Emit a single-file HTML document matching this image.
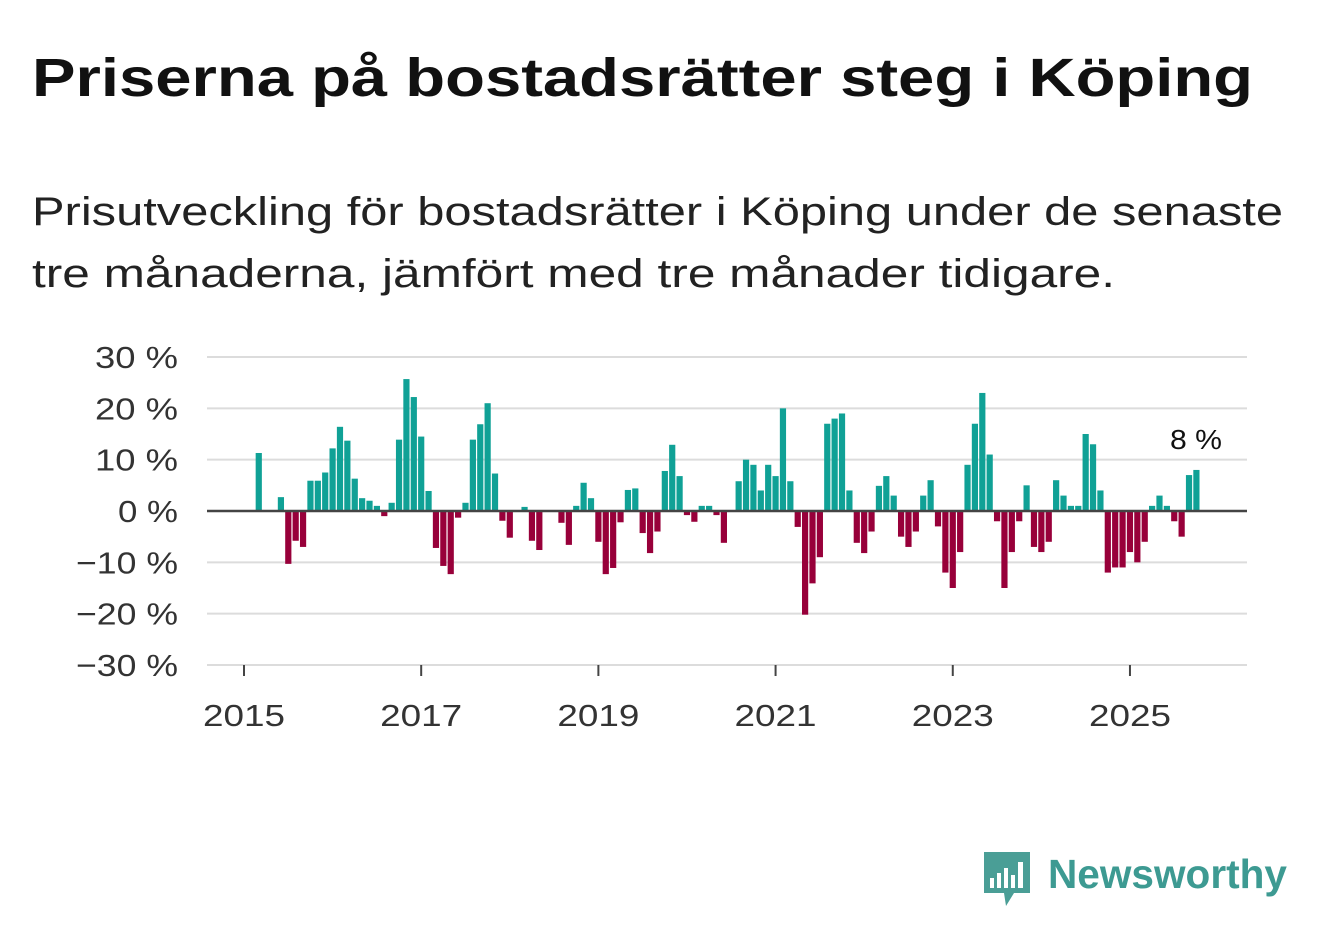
<!DOCTYPE html>
<html><head><meta charset="utf-8"><style>
html,body{margin:0;padding:0;background:#fff;}
svg{display:block;font-family:"Liberation Sans",sans-serif;}
</style></head><body>
<svg id="chart" width="1322" height="939" viewBox="0 0 1322 939">
<text x="32" y="96" font-size="54" font-weight="bold" fill="#111" textLength="1221" lengthAdjust="spacingAndGlyphs">Priserna på bostadsrätter steg i Köping</text>
<text x="32" y="225" font-size="40" fill="#222" textLength="1251" lengthAdjust="spacingAndGlyphs">Prisutveckling för bostadsrätter i Köping under de senaste</text>
<text x="32" y="287" font-size="40" fill="#222" textLength="1083" lengthAdjust="spacingAndGlyphs">tre månaderna, jämfört med tre månader tidigare.</text>
<g id="grid"></g>
<g id="bars"></g>
<g id="axes"></g>
<text x="1222" y="449" font-size="28" fill="#111" text-anchor="end" textLength="52" lengthAdjust="spacingAndGlyphs">8 %</text>
<g>
<path d="M984 852 H1030 V893 H1014 L1006 906 L1004 893 H984 Z" fill="#4a9e96"/>
<rect x="990" y="878" width="4" height="10" fill="#fff"/>
<rect x="997" y="873" width="4" height="15" fill="#fff"/>
<rect x="1004" y="868" width="4" height="20" fill="#fff"/>
<rect x="1011" y="875" width="4" height="13" fill="#fff"/>
<rect x="1018" y="862" width="5" height="26" fill="#fff"/>
<text x="1048" y="888" font-size="41" font-weight="bold" fill="#3d9a92" textLength="239" lengthAdjust="spacingAndGlyphs">Newsworthy</text>
</g>
</svg>
<script>
const startYear = 2015;
const yTicks = [30, 20, 10, 0, -10, -20, -30];
const yTickLabels = ["30 %", "20 %", "10 %", "0 %", "−10 %", "−20 %", "−30 %"];
const xTickYears = [2015, 2017, 2019, 2021, 2023, 2025];
const values = [
0,0,11.3,0,0,2.7,-10.3,-5.8,-7,5.9,5.9,7.5,
12.2,16.4,13.7,6.3,2.5,2,1,-1,1.6,13.9,25.7,22.2,
14.5,3.9,-7.2,-10.7,-12.3,-1.3,1.6,13.9,16.9,21,7.3,-1.9,
-5.2,0,0.8,-5.8,-7.6,0,0,-2.3,-6.6,1,5.5,2.5,
-6,-12.3,-11.1,-2.2,4.1,4.4,-4.3,-8.2,-4,7.8,12.9,6.8,
-0.8,-2.1,1,1,-0.8,-6.2,0,5.8,10,9,4,9,
6.8,20,5.8,-3.1,-20.2,-14.1,-9,17,18,19,4,-6.2,
-8.2,-4,4.9,6.8,3,-5,-7,-4,3,6,-3,-12,
-15,-8,9,17,23,11,-2,-15,-8,-2,5,-7,
-8,-6,6,3,1,1,15,13,4,-12,-11,-11,
-8,-10,-6,1,3,1,-2,-5,7,8
];
const NS = "http://www.w3.org/2000/svg";
const x0 = 244, pxPerMonth = 7.383, plotL = 207, plotR = 1247;
function xScale(m){ return x0 + m * pxPerMonth; }
function yScale(v){ return 511 - v * 5.133; }
function mk(tag, attrs, parent){ const e = document.createElementNS(NS, tag); for (const k in attrs) e.setAttribute(k, attrs[k]); parent.appendChild(e); return e; }
const grid = document.getElementById('grid'), bars = document.getElementById('bars'), axes = document.getElementById('axes');
yTicks.forEach((t, i) => {
  if (t !== 0) {
    const l = mk('line', {x1: plotL, x2: plotR, y1: yScale(t), y2: yScale(t), stroke: '#dcdcdc', 'stroke-width': 2}, grid);
    
    
  }
  const lbl = yTickLabels[i];
  const w = lbl.length >= 5 ? 102 : (lbl.length === 4 ? 83 : 60);
  const tx = mk('text', {x: 178, y: yScale(t) + 11, 'font-size': 31, fill: '#333', 'text-anchor': 'end', textLength: w, lengthAdjust: 'spacingAndGlyphs'}, axes);
  tx.textContent = lbl;
  
  
});
values.forEach((v, i) => {
  if (v === 0) return;
  const y = Math.min(yScale(v), yScale(0)), h = Math.abs(yScale(v) - yScale(0));
  const r = mk('rect', {x: xScale(i) - 3.1, y: y, width: 6.2, height: h, fill: v > 0 ? '#10a196' : '#98003a'}, bars);
  
  
});
const zl = mk('line', {x1: plotL, x2: plotR, y1: yScale(0), y2: yScale(0), stroke: '#444', 'stroke-width': 2.5}, axes);


xTickYears.forEach(yr => {
  const x = xScale((yr - startYear) * 12);
  const t = mk('line', {x1: x, x2: x, y1: 665, y2: 676, stroke: '#444', 'stroke-width': 2}, axes);
  
  
  const tx = mk('text', {x: x, y: 726, 'font-size': 31, fill: '#333', 'text-anchor': 'middle', textLength: 82, lengthAdjust: 'spacingAndGlyphs'}, axes);
  tx.textContent = yr;
  
  
});
</script>
</body></html>
